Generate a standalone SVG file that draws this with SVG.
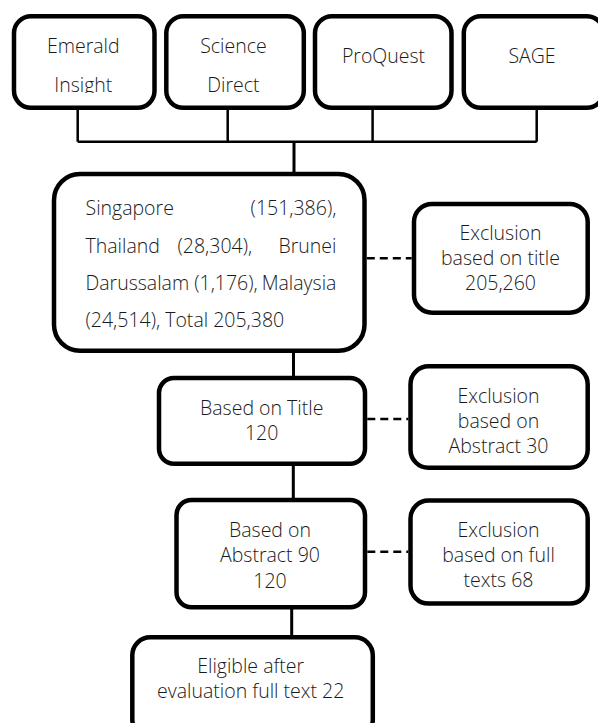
<svg xmlns="http://www.w3.org/2000/svg" width="598" height="723" viewBox="0 0 598 723">
<defs>
<style>
.box{fill:#fff;stroke:#000;stroke-width:4.5}
.t{font-family:"Open Sans","Noto Sans","Liberation Sans",sans-serif;font-size:19.5px;font-weight:300;fill:#1a1a1a}
.c{text-anchor:middle}
.e{text-anchor:end}
.ln{stroke:#000;stroke-width:2.5;fill:none}
.st{stroke:#000;stroke-width:3;fill:none}
.da{stroke:#000;stroke-width:2.5;fill:none;stroke-dasharray:8 5}
</style>
<clipPath id="topclip"><rect x="0" y="0" width="598" height="93"/></clipPath>
</defs>
<rect width="598" height="723" fill="#fff"/>
<g id="connectors">
<path class="ln" d="M77.7 110V141.7M227.7 110V141.7M372.6 110V141.7M536.7 110V141.7M77.7 141.7H536.7"/>
<path class="st" d="M294 141.7V172M293.5 351V376M293.3 465V498M291.7 608V636"/>
<path class="da" d="M366.8 258.3H411.7M367.3 419H408.3M367.3 551.7H408.3"/>
</g>
<g id="emerald">
<rect class="box" x="14" y="16.3" width="140.5" height="91.5" rx="17"/>
<g clip-path="url(#topclip)"><text class="t c" x="83.3" y="53.3">Emerald</text><text class="t c" x="83.3" y="91.7">Insight</text></g>
</g>
<g id="science">
<rect class="box" x="166.3" y="16.3" width="137.5" height="91.5" rx="17"/>
<g clip-path="url(#topclip)"><text class="t c" x="233.4" y="53.3">Science</text><text class="t c" x="233.4" y="91.7">Direct</text></g>
</g>
<g id="proquest">
<rect class="box" x="315" y="16.3" width="136.5" height="91.5" rx="17"/>
<text class="t c" x="383.5" y="63.3">ProQuest</text>
</g>
<g id="sage">
<rect class="box" x="463.8" y="16.3" width="140" height="91.5" rx="17"/>
<text class="t c" x="532" y="63.3">SAGE</text>
</g>
<g id="countries">
<rect class="box" x="54" y="174" width="310.5" height="176.8" rx="26"/>
<text class="t" x="85.5" y="215">Singapore</text>
<text class="t e" x="336.4" y="215">(151,386),</text>
<text class="t" x="85.5" y="252.5">Thailand</text>
<text class="t" x="177.5" y="252.5">(28,304),</text>
<text class="t e" x="336.4" y="252.5">Brunei</text>
<text class="t" x="85.5" y="290">Darussalam (1,176),</text>
<text class="t e" x="336.4" y="290">Malaysia</text>
<text class="t" x="85.5" y="327">(24,514), Total 205,380</text>
</g>
<g id="excl-title">
<rect class="box" x="414" y="204" width="173.7" height="108.7" rx="18"/>
<text class="t c" x="500.5" y="240">Exclusion</text>
<text class="t c" x="500.5" y="265">based on title</text>
<text class="t c" x="500.5" y="290">205,260</text>
</g>
<g id="based-title">
<rect class="box" x="159" y="378" width="206" height="85.7" rx="15"/>
<text class="t c" x="261.7" y="415">Based on Title</text>
<text class="t c" x="261.7" y="440">120</text>
</g>
<g id="excl-abstract">
<rect class="box" x="410.5" y="366.3" width="177.2" height="101.5" rx="18"/>
<text class="t c" x="498.5" y="403">Exclusion</text>
<text class="t c" x="498.5" y="428">based on</text>
<text class="t c" x="498.5" y="453.3">Abstract 30</text>
</g>
<g id="based-abstract">
<rect class="box" x="176.5" y="500" width="188.5" height="107.3" rx="15"/>
<text class="t c" x="270" y="536.5">Based on</text>
<text class="t c" x="270" y="562">Abstract 90</text>
<text class="t c" x="270" y="588">120</text>
</g>
<g id="excl-full">
<rect class="box" x="410.5" y="500.6" width="177.2" height="103" rx="18"/>
<text class="t c" x="498.5" y="537">Exclusion</text>
<text class="t c" x="498.5" y="562">based on full</text>
<text class="t c" x="498.5" y="587">texts 68</text>
</g>
<g id="eligible">
<rect class="box" x="132.3" y="637.3" width="240.5" height="100" rx="18"/>
<text class="t c" x="250.7" y="672.7">Eligible after</text>
<text class="t c" x="250.7" y="698.3">evaluation full text 22</text>
</g>
</svg>
